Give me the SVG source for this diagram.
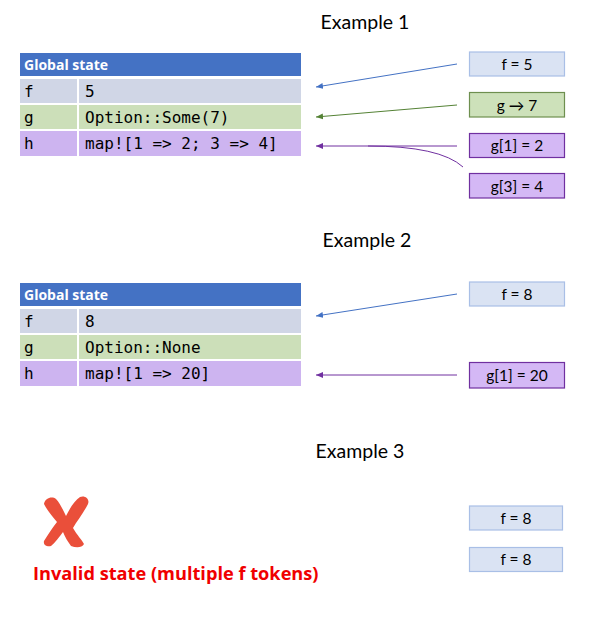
<svg xmlns="http://www.w3.org/2000/svg" width="600" height="621" viewBox="0 0 600 621">
<style>
.title{font-family:Lato,"Open Sans",sans-serif;font-size:19.5px;fill:#000;text-anchor:middle}
.hdr{font-family:"Open Sans",Lato,sans-serif;font-size:14px;font-weight:bold;fill:#fff}
.mono{font-family:"DejaVu Sans Mono","Liberation Mono",monospace;font-size:16px;fill:#000}
.lbl{font-family:Lato,"Open Sans",sans-serif;font-size:15.5px;fill:#000;text-anchor:middle}
.cell{stroke:#fff;stroke-width:2}
.bf{fill:#DAE3F3;stroke:#A9BFE6;stroke-width:1.2}
.bg{fill:#CDE1BA;stroke:#6E8F4F;stroke-width:1.2}
.bp{fill:#D4B8F5;stroke:#7030A0;stroke-width:1.2}
.err{font-family:"Open Sans",Lato,sans-serif;font-size:18.2px;font-weight:bold;fill:#F00000}
</style>
<defs>
<marker id="ab" markerWidth="8" markerHeight="8" refX="7" refY="4" orient="auto" markerUnits="userSpaceOnUse"><path d="M0,1 L7,4 L0,7 Z" fill="#4472C4"/></marker>
<marker id="ag" markerWidth="8" markerHeight="8" refX="7" refY="4" orient="auto" markerUnits="userSpaceOnUse"><path d="M0,1 L7,4 L0,7 Z" fill="#548235"/></marker>
<marker id="ap" markerWidth="8" markerHeight="8" refX="7" refY="4" orient="auto" markerUnits="userSpaceOnUse"><path d="M0,1 L7,4 L0,7 Z" fill="#7030A0"/></marker>
</defs>
<rect width="600" height="621" fill="#fff"/>

<text class="title" x="365" y="29">Example 1</text>
<text class="title" x="367" y="247">Example 2</text>
<text class="title" x="360" y="458">Example 3</text>

<g id="table1">
<rect class="cell" x="19" y="52" width="283" height="25" fill="#4472C4"/>
<text class="hdr" x="24" y="70">Global state</text>
<rect class="cell" x="19" y="78" width="59" height="26" fill="#D0D6E6"/>
<rect class="cell" x="78" y="78" width="224" height="26" fill="#D0D6E6"/>
<rect class="cell" x="19" y="104" width="59" height="26" fill="#CCDFB9"/>
<rect class="cell" x="78" y="104" width="224" height="26" fill="#CCDFB9"/>
<rect class="cell" x="19" y="130" width="59" height="27" fill="#CDB4F0"/>
<rect class="cell" x="78" y="130" width="224" height="27" fill="#CDB4F0"/>
<text class="mono" x="24" y="97">f</text>
<text class="mono" x="85" y="97">5</text>
<text class="mono" x="24" y="123">g</text>
<text class="mono" x="85" y="123">Option::Some(7)</text>
<text class="mono" x="24" y="149">h</text>
<text class="mono" x="85" y="149">map![1 =&gt; 2; 3 =&gt; 4]</text>
</g>

<g id="table2">
<rect class="cell" x="19" y="282" width="283" height="25" fill="#4472C4"/>
<text class="hdr" x="24" y="300">Global state</text>
<rect class="cell" x="19" y="308" width="59" height="26" fill="#D0D6E6"/>
<rect class="cell" x="78" y="308" width="224" height="26" fill="#D0D6E6"/>
<rect class="cell" x="19" y="334" width="59" height="26" fill="#CCDFB9"/>
<rect class="cell" x="78" y="334" width="224" height="26" fill="#CCDFB9"/>
<rect class="cell" x="19" y="360" width="59" height="27" fill="#CDB4F0"/>
<rect class="cell" x="78" y="360" width="224" height="27" fill="#CDB4F0"/>
<text class="mono" x="24" y="327">f</text>
<text class="mono" x="85" y="327">8</text>
<text class="mono" x="24" y="353">g</text>
<text class="mono" x="85" y="353">Option::None</text>
<text class="mono" x="24" y="379">h</text>
<text class="mono" x="85" y="379">map![1 =&gt; 20]</text>
</g>

<g id="tok-f5"><rect class="bf" x="469.5" y="52" width="95" height="24"/><text class="lbl" x="517" y="69.5">f = 5</text></g>
<g id="tok-g7"><rect class="bg" x="469.5" y="92.5" width="95" height="24.5"/><text class="lbl" x="517" y="110.5">g → 7</text></g>
<g id="tok-g12"><rect class="bp" x="469.5" y="133.5" width="95" height="24"/><text class="lbl" x="517" y="151">g[1] = 2</text></g>
<g id="tok-g34"><rect class="bp" x="469.5" y="173.5" width="95" height="24.5"/><text class="lbl" x="517" y="191.5">g[3] = 4</text></g>

<g id="tok-f8"><rect class="bf" x="469.5" y="282" width="95" height="24"/><text class="lbl" x="517" y="299.5">f = 8</text></g>
<g id="tok-g120"><rect class="bp" x="469.5" y="362.5" width="95" height="25.5"/><text class="lbl" x="517" y="381">g[1] = 20</text></g>

<g id="tok-f8a"><rect class="bf" x="469.5" y="506" width="93" height="24"/><text class="lbl" x="516" y="523.5">f = 8</text></g>
<g id="tok-f8b"><rect class="bf" x="469.5" y="547.5" width="93" height="24"/><text class="lbl" x="516" y="565">f = 8</text></g>

<g id="invalid">
<path d="M44,504 C45,498 52,496 56,499 C60,503 63,510 66,516 C70,508 75,500 80,497 C85,495 90,499 88,504 C84,512 77,521 73,528 C77,535 82,540 84,544 C82,548 76,548 71,546 C68,542 65,537 63,532 C59,537 55,543 51,546 C47,547 43,545 44,541 C48,535 52,528 57,522 C52,516 47,510 44,504 Z" fill="#EA4F3A"/>
<text class="err" x="33" y="580">Invalid state (multiple f tokens)</text>
</g>

<g id="connectors" fill="none" stroke-width="1">
<line x1="457" y1="64" x2="316" y2="87" stroke="#4472C4" marker-end="url(#ab)"/>
<line x1="457" y1="105" x2="316" y2="117" stroke="#548235" marker-end="url(#ag)"/>
<line x1="457" y1="146" x2="316" y2="146" stroke="#7030A0" marker-end="url(#ap)"/>
<path d="M463,167 Q440,146 368,146" stroke="#7030A0"/>
<line x1="457" y1="294" x2="316" y2="316" stroke="#4472C4" marker-end="url(#ab)"/>
<line x1="457" y1="375" x2="316" y2="375" stroke="#7030A0" marker-end="url(#ap)"/>
</g>
</svg>
